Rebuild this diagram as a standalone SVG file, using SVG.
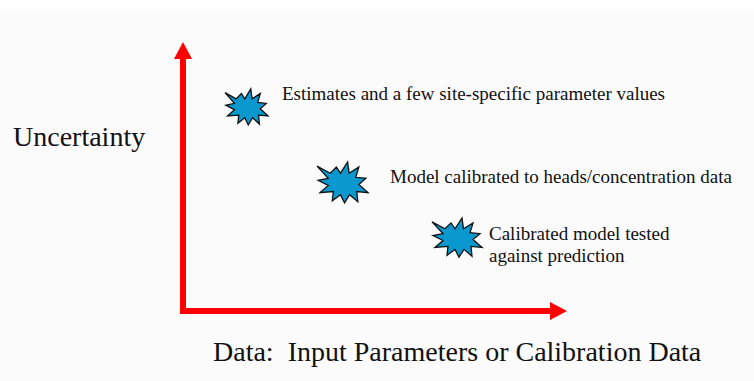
<svg xmlns="http://www.w3.org/2000/svg" width="754" height="381" viewBox="0 0 754 381">
<style>
.lbl{font-family:"Liberation Serif","Times New Roman",serif;fill:#111;}
.axis{fill:none;stroke:#ff0000;stroke-width:6;stroke-linejoin:miter;}
.burst{fill:#0b98cf;stroke:#111;stroke-width:1.3;stroke-linejoin:miter;}
</style>
<defs>
<marker id="head" markerUnits="userSpaceOnUse" markerWidth="18" markerHeight="18" refX="0" refY="9" orient="auto-start-reverse" viewBox="0 0 18 18">
<path d="M0,0 L17,9 L0,18 Z" fill="#ff0000"/>
</marker>
<path id="burstShape" vector-effect="non-scaling-stroke" d="M0,8 L26,22 L38,10 L46,22 L60,0 L63,22 L82,10 L76,30 L96,32 L82,44 L100,60 L78,58 L80,78 L64,64 L54,80 L46,64 L30,76 L32,58 L6,60 L22,46 L2,36 L22,32 Z"/>
</defs>
<rect x="0" y="0" width="754" height="381" fill="#ffffff"/>
<rect x="0" y="11" width="754" height="370" fill="#fbfbfb"/>
<g id="connectors">
<polyline class="axis" points="183,59 183,311 550,311" marker-start="url(#head)" marker-end="url(#head)"/>
</g>
<g id="y-label">
<text class="lbl" x="13" y="146" font-size="28">Uncertainty</text>
</g>
<g id="x-label">
<text class="lbl" x="213" y="361" font-size="28" xml:space="preserve" style="white-space:pre">Data:  Input Parameters or Calibration Data</text>
</g>
<g id="node1">
<use href="#burstShape" class="burst" transform="translate(225,89) scale(0.43,0.45)"/>
<text class="lbl" x="282" y="100" font-size="19">Estimates and a few site-specific parameter values</text>
</g>
<g id="node2">
<use href="#burstShape" class="burst" transform="translate(317,162) scale(0.51,0.51)"/>
<text class="lbl" x="390" y="183" font-size="19">Model calibrated to heads/concentration data</text>
</g>
<g id="node3">
<use href="#burstShape" class="burst" transform="translate(432,218) scale(0.5,0.49)"/>
<text class="lbl" x="489" y="240" font-size="19">Calibrated model tested</text>
<text class="lbl" x="489" y="262" font-size="19">against prediction</text>
</g>
</svg>
